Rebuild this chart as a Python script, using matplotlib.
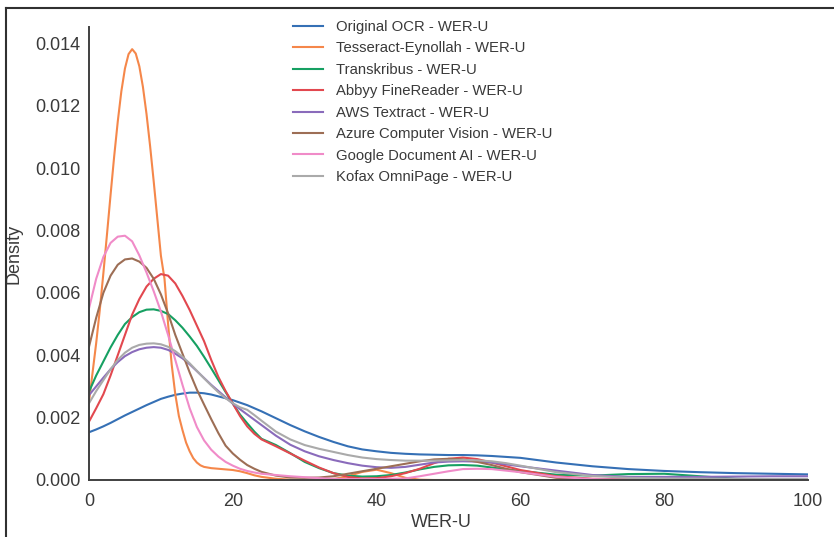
import numpy as np
import matplotlib

matplotlib.use("Agg")
import matplotlib.pyplot as plt
from matplotlib.lines import Line2D

# WER-U grid (x) and densities, in units of 1e-3
wer_grid = list(range(0, 25)) + list(range(26, 61, 2)) + list(range(65, 101, 5))
# the Tesseract peak is sharp, so it was read on a finer grid
tesseract_grid = [i / 2 for i in range(0, 33)] + list(range(17, 25)) + list(range(26, 61, 2)) + list(range(65, 101, 5))

original_ocr = [
    1.53, 1.62, 1.72, 1.83, 1.95, 2.07, 2.18, 2.29, 2.40, 2.50, 2.60, 2.67, 2.73, 2.77, 2.80,
    2.80, 2.78, 2.74, 2.68, 2.62, 2.56, 2.48, 2.40, 2.30, 2.20,
    1.98, 1.76, 1.56, 1.38, 1.22, 1.08, 0.98, 0.92, 0.87, 0.84, 0.82, 0.81, 0.80, 0.80, 0.79,
    0.77, 0.74, 0.71,
    0.56, 0.44, 0.35, 0.29, 0.25, 0.22, 0.20, 0.18,
]
tesseract = [
    2.50, 3.45, 4.39, 5.45, 6.63, 7.87, 9.14, 10.37, 11.49, 12.46, 13.19, 13.65, 13.81,
    13.67, 13.26, 12.60, 11.73, 10.70, 9.57, 8.38, 7.19, 6.45, 5.00, 3.70, 2.75, 2.05,
    1.60, 1.20, 0.92, 0.70, 0.56, 0.47, 0.42,
    0.38, 0.36, 0.34, 0.32, 0.28, 0.22, 0.15, 0.10,
    0.04, 0.01, 0.0, 0.0, 0.03, 0.12, 0.26, 0.33, 0.22, 0.07, 0.01, 0.0, 0.0, 0.0, 0.0,
    0.0, 0.0, 0.0,
    0.0, 0.0, 0.0, 0.0, 0.0, 0.0, 0.0, 0.0,
]
transkribus = [
    2.83, 3.35, 3.80, 4.25, 4.65, 5.00, 5.22, 5.38, 5.46, 5.47, 5.42, 5.32, 5.12, 4.88, 4.60,
    4.30, 3.95, 3.58, 3.20, 2.82, 2.45, 2.10, 1.82, 1.55, 1.32,
    1.12, 0.86, 0.58, 0.38, 0.22, 0.14, 0.11, 0.12, 0.16, 0.24, 0.34, 0.42, 0.47, 0.48, 0.46,
    0.40, 0.34, 0.29,
    0.17, 0.14, 0.19, 0.20, 0.12, 0.04, 0.01, 0.0,
]
abbyy = [
    1.87, 2.30, 2.75, 3.35, 4.00, 4.65, 5.30, 5.80, 6.20, 6.45, 6.60, 6.55, 6.30, 5.90, 5.45,
    4.95, 4.45, 3.85, 3.30, 2.85, 2.45, 2.05, 1.72, 1.48, 1.30,
    1.08, 0.85, 0.62, 0.40, 0.22, 0.10, 0.05, 0.06, 0.12, 0.22, 0.36, 0.54, 0.68, 0.72, 0.67,
    0.56, 0.44, 0.32,
    0.12, 0.04, 0.02, 0.01, 0.0, 0.0, 0.0, 0.0,
]
aws = [
    2.72, 3.00, 3.28, 3.55, 3.78, 3.97, 4.10, 4.19, 4.24, 4.26, 4.24, 4.17, 4.05, 3.90, 3.71,
    3.49, 3.27, 3.05, 2.85, 2.65, 2.45, 2.27, 2.10, 1.93, 1.76,
    1.42, 1.13, 0.92, 0.76, 0.64, 0.54, 0.46, 0.41, 0.39, 0.42, 0.49, 0.56, 0.59, 0.60, 0.59,
    0.56, 0.50, 0.44,
    0.30, 0.16, 0.10, 0.10, 0.10, 0.11, 0.12, 0.12,
]
azure = [
    4.27, 5.20, 6.00, 6.55, 6.90, 7.07, 7.10, 7.00, 6.80, 6.45, 5.95, 5.34, 4.65, 4.05, 3.45,
    2.90, 2.42, 1.95, 1.50, 1.10, 0.85, 0.65, 0.48, 0.36, 0.26,
    0.14, 0.08, 0.07, 0.08, 0.12, 0.20, 0.28, 0.36, 0.44, 0.52, 0.60, 0.66, 0.68, 0.66, 0.58,
    0.48, 0.36, 0.25,
    0.07, 0.02, 0.01, 0.0, 0.0, 0.0, 0.0, 0.0,
]
google = [
    5.50, 6.45, 7.15, 7.60, 7.80, 7.83, 7.65, 7.20, 6.65, 6.05, 5.40, 4.65, 3.85, 3.05, 2.30,
    1.70, 1.27, 0.97, 0.75, 0.58, 0.46, 0.36, 0.29, 0.24, 0.20,
    0.16, 0.12, 0.09, 0.06, 0.04, 0.03, 0.03, 0.03, 0.04, 0.05, 0.12, 0.20, 0.28, 0.35, 0.36,
    0.35, 0.30, 0.25,
    0.10, 0.03, 0.01, 0.0, 0.0, 0.0, 0.0, 0.0,
]
kofax = [
    2.46, 2.85, 3.20, 3.55, 3.85, 4.08, 4.24, 4.33, 4.37, 4.38, 4.35, 4.27, 4.13, 3.95, 3.74,
    3.50, 3.26, 3.03, 2.81, 2.62, 2.46, 2.33, 2.25, 2.08, 1.90,
    1.55, 1.30, 1.12, 1.00, 0.90, 0.80, 0.72, 0.67, 0.64, 0.62, 0.62, 0.62, 0.63, 0.64, 0.63,
    0.60, 0.54, 0.46,
    0.25, 0.13, 0.07, 0.05, 0.04, 0.03, 0.03, 0.03,
]

series_names = [
    "Original OCR - WER-U",
    "Tesseract-Eynollah - WER-U",
    "Transkribus - WER-U",
    "Abbyy FineReader - WER-U",
    "AWS Textract - WER-U",
    "Azure Computer Vision - WER-U",
    "Google Document AI - WER-U",
    "Kofax OmniPage - WER-U",
]
series_values = [original_ocr, tesseract, transkribus, abbyy, aws, azure, google, kofax]
series_grids = [wer_grid, tesseract_grid] + [wer_grid] * 6
colors = ["#3570b5", "#f5874a", "#16a062", "#e2484f", "#8a6bbb", "#9d6e55", "#f08bc8", "#aaaaaa"]

plt.rcParams["font.family"] = ["Liberation Sans", "DejaVu Sans"]

fig = plt.figure(figsize=(8.34, 5.37), dpi=100)
ax = fig.add_axes([89 / 834, 1 - 480 / 537, (808 - 89) / 834, (480 - 27) / 537])

for name, grid, vals, col in zip(series_names, series_grids, series_values, colors):
    ax.plot(np.array(grid, dtype=float), np.array(vals) / 1000.0, color=col, lw=1.5, label=name)

ax.set_xlim(0, 100)
ax.set_ylim(0, 0.01452)
ax.set_xticks([0, 20, 40, 60, 80, 100])
ax.set_yticks(np.arange(0, 0.0141, 0.002))
ax.yaxis.set_major_formatter(matplotlib.ticker.FormatStrFormatter("%.3f"))
ax.tick_params(axis="both", length=0, labelsize=13, colors="#3a3a3a")
ax.tick_params(axis="x", pad=9)
ax.tick_params(axis="y", pad=6)

for side in ["top", "right"]:
    ax.spines[side].set_visible(False)
for side in ["left", "bottom"]:
    ax.spines[side].set_color("#404040")
    ax.spines[side].set_linewidth(1.4)

ax.set_xlabel("WER-U", fontsize=13, color="#3a3a3a")
ax.xaxis.set_label_coords(0.49, -0.075)
ax.set_ylabel("Density", fontsize=13, color="#3a3a3a")
ax.yaxis.set_label_coords(-0.092, 0.5)

fig.legend(
    loc="upper left",
    bbox_to_anchor=(293 / 834, 1 - 20 / 537),
    frameon=False,
    fontsize=10.7,
    labelspacing=0.5,
    handlelength=2.0,
    handletextpad=0.87,
    borderpad=0,
    borderaxespad=0,
    labelcolor="#3a3a3a",
)

# outer frame visible in the screenshot
fig.add_artist(Line2D([6 / 834, 1], [1 - 8 / 537, 1 - 8 / 537], color="#303030", lw=1.5))
fig.add_artist(Line2D([6 / 834, 6 / 834], [0, 1 - 8 / 537], color="#303030", lw=1.5))

fig.savefig("out.png", dpi=100)
